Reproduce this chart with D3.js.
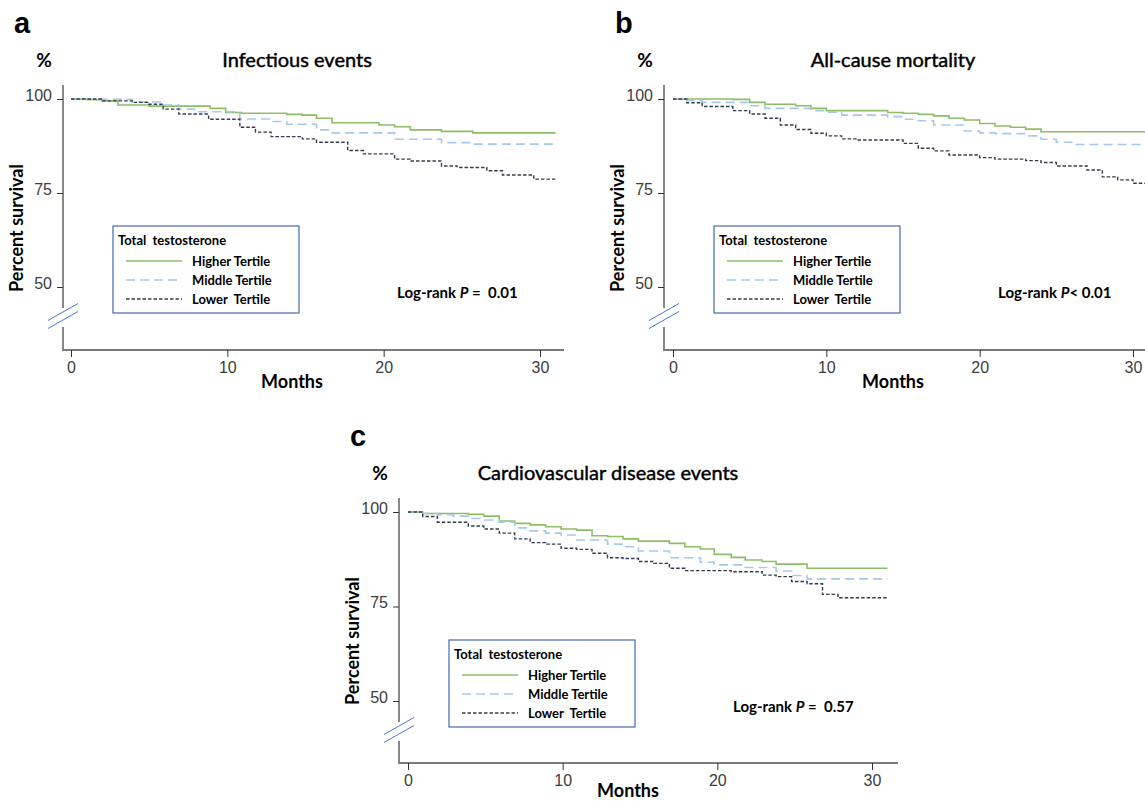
<!DOCTYPE html>
<html>
<head>
<meta charset="utf-8">
<script src="https://cdn.jsdelivr.net/npm/d3@7"></script>
<style>
    body { margin: 0; background: #fff; }
    svg text { font-family: Lato, "Open Sans", sans-serif; }
</style>
</head>
<body>
<div id="chart"></div>
<script>
// [month, percent survival] - step points
let infHigher = [[0,100],[1,99.8],[2,99.5],[3,98.4],[5,98.1],[8.9,97.5],[9.9,96.4],[10.9,96.2],[13.8,95.9],[14.8,95.7],[15.7,94.9],[16.7,93.7],[19.7,93.1],[20.7,92.6],[21.7,91.8],[23.7,91.4],[25.7,91.0],[31,91.0]]
let infMiddle = [[0,100],[2,99.9],[3.9,99.2],[5.9,98.4],[6.9,97.3],[7.9,96.6],[10.8,94.7],[12.9,94.0],[13.8,93.3],[15.7,91.8],[16.7,91.0],[20.7,89.3],[23.7,88.4],[25.7,88.0],[31,88.0]]
let infLower = [[0,100],[2,99.5],[4,99.1],[4.9,98.6],[5.9,97.3],[6.9,96.0],[8.8,94.6],[10.8,92.5],[11.8,91.2],[12.8,90.0],[14.8,89.4],[15.7,88.5],[17.7,86.3],[18.7,85.4],[20.7,84.0],[21.7,83.5],[23.7,82.2],[24.7,81.8],[26.6,80.9],[27.6,79.8],[29.6,78.7],[31,78.7]]

let mortHigher = [[0,100],[3.9,99.9],[5,99.1],[6,98.6],[8,98.2],[9,97.5],[10,96.9],[14,96.4],[15,96.2],[16,95.9],[17,95.5],[18,94.9],[19,94.4],[20,93.5],[21,92.8],[22,92.5],[23,92.0],[24,91.3],[31,91.3]]
let mortMiddle = [[0,100],[0.9,99.6],[1.9,99.1],[5,98.2],[6,97.5],[9,96.9],[10,96.5],[11,95.7],[14,95.3],[15,94.6],[16,94.2],[17,93.1],[19,91.5],[20,91.0],[21,90.8],[23,90.2],[24,89.3],[25,88.5],[26,87.9],[31,87.9]]
let mortLower = [[0,100],[0.9,99.0],[1.9,98.0],[3.9,96.9],[5,96.0],[6,94.9],[7,93.1],[8,91.9],[9,90.9],[10,90.2],[11,89.4],[12,89.1],[15,88.2],[16,86.9],[17,86.2],[18,85.1],[20,84.4],[21,84.0],[23,83.6],[24,83.1],[25,82.2],[27,81.1],[28,79.3],[29,78.5],[30,77.6],[31,77.6]]

let cvdHigher = [[0,100],[0.95,99.6],[3.9,99.4],[4.9,98.9],[5.9,97.6],[6.9,97.0],[7.9,96.6],[8.9,96.1],[9.9,95.5],[10.9,95.2],[11.9,93.7],[12.9,93.5],[13.9,92.9],[14.9,92.3],[16.9,91.7],[17.9,90.8],[18.9,90.2],[19.8,88.8],[20.9,88.0],[21.8,87.3],[22.9,86.9],[23.8,86.2],[25.8,85.1],[31,85.1]]
let cvdMiddle = [[0,100],[0.95,99.6],[1.9,99.2],[2.9,98.9],[3.9,98.3],[4.9,97.9],[5.9,97.3],[6.9,95.8],[7.9,95.0],[8.9,94.4],[9.9,93.9],[10.9,92.6],[12.9,91.5],[13.9,90.8],[14.9,89.7],[16.9,87.9],[18.9,86.7],[19.8,86.0],[21.8,85.3],[23.8,84.4],[24.8,83.2],[25.8,82.3],[31,82.3]]
let cvdLower = [[0,100],[0.95,98.8],[1.9,97.3],[3.9,96.3],[4.9,95.5],[5.9,94.4],[6.9,92.9],[7.9,91.9],[8.9,91.5],[9.9,90.4],[10.9,90.1],[11.9,89.1],[12.9,87.9],[13.9,87.7],[14.9,86.9],[15.9,86.4],[16.9,85.1],[17.9,84.5],[20.9,84.2],[22.9,83.3],[23.8,82.9],[24.8,81.6],[25.8,81.0],[26.8,78.2],[27.8,77.3],[31,77.3]]

let xTicks = [0, 10, 20, 30]
let yTicks = [50, 75, 100]
let panelLetters = ["a", "b", "c"]
let panelTitles = ["Infectious events", "All-cause mortality", "Cardiovascular disease events"]
let pValues = [" =  0.01", "< 0.01", " =  0.57"]
let legendTitle = "Total  testosterone"
let tertileNames = ["Higher Tertile", "Middle Tertile", "Lower  Tertile"]

let seriesData = [
    [infHigher, infMiddle, infLower],
    [mortHigher, mortMiddle, mortLower],
    [cvdHigher, cvdMiddle, cvdLower]
]

// line styles per tertile
let tertileStyle = [
    {color: "#8dbd66", dash: null, width: 1.6},
    {color: "#a6c8ee", dash: "9,5", width: 1.6},
    {color: "#343c4c", dash: "3.5,2", width: 1.4}
]

// panel placement on the page
let layout = [
    {ax: 63,  x0: 71,  x30: 540,  right: 564,  y100: 99,  y50: 287, bottom: 350, titleX: 297, monthsY: 388},
    {ax: 664, x0: 673, x30: 1133, right: 1150, y100: 99,  y50: 287, bottom: 350, titleX: 893, monthsY: 388},
    {ax: 399, x0: 408, x30: 872,  right: 898,  y100: 512, y50: 701, bottom: 763, titleX: 608, monthsY: 797}
]

let svg = d3.select("#chart")
    .append("svg")
        .attr("width", 1145)
        .attr("height", 802)

layout.forEach((p, i) => drawPanel(p, i))

function drawPanel(p, i) {
    let g = svg.append("g").attr("id", "panel" + panelLetters[i])

    let x = d3.scaleLinear().domain([0, 30]).range([p.x0, p.x30])
    let y = d3.scaleLinear().domain([50, 100]).range([p.y50, p.y100])

    // axis lines (y axis is broken below 50)
    g.append("line")
        .attr("x1", p.ax).attr("x2", p.ax)
        .attr("y1", p.y100 - 14).attr("y2", p.y50 + 21)
        .attr("stroke", "#7a7a7a").attr("stroke-width", 1.8)
    g.append("line")
        .attr("x1", p.ax).attr("x2", p.ax)
        .attr("y1", p.y50 + 40).attr("y2", p.bottom)
        .attr("stroke", "#7a7a7a").attr("stroke-width", 1.8)
    g.append("line")
        .attr("x1", p.ax - 0.9).attr("x2", p.right)
        .attr("y1", p.bottom).attr("y2", p.bottom)
        .attr("stroke", "#7a7a7a").attr("stroke-width", 1.8)

    // break marks
    ;[25, 33].forEach(off => {
        g.append("line")
            .attr("x1", p.ax - 15).attr("y1", p.y50 + off + 8.5)
            .attr("x2", p.ax + 15).attr("y2", p.y50 + off - 8.5)
            .attr("stroke", "#4a78cf").attr("stroke-width", 1)
    })

    let yAxis = g.append("g")
        .attr("transform", `translate(${p.ax},0)`)
        .call(d3.axisLeft(y).tickValues(yTicks).tickSize(6).tickPadding(5))
    yAxis.select(".domain").remove()
    yAxis.selectAll("text").attr("dy", "1px")

    let xAxis = g.append("g")
        .attr("transform", `translate(0,${p.bottom})`)
        .call(d3.axisBottom(x).tickValues(xTicks).tickSize(7).tickPadding(5))
    xAxis.select(".domain").remove()

    ;[yAxis, xAxis].forEach(a => {
        a.selectAll("text")
            .style("font-family", "'Liberation Sans', Arial, sans-serif")
            .style("font-size", "16px")
            .attr("fill", "#3c3c3c")
        a.selectAll(".tick line").attr("stroke", "#333")
    })

    // curves
    let line = d3.line()
        .x(d => x(d[0]))
        .y(d => y(d[1]))
        .curve(d3.curveStepAfter)

    seriesData[i].forEach((s, k) => {
        g.append("path")
            .datum(s)
            .attr("d", line)
            .attr("fill", "none")
            .attr("stroke", tertileStyle[k].color)
            .attr("stroke-width", tertileStyle[k].width)
            .attr("stroke-dasharray", tertileStyle[k].dash)
    })

    // labels
    g.append("text")
        .attr("x", p.ax - 49).attr("y", p.y100 - 66)
        .style("font-family", "'Liberation Sans', Arial, sans-serif")
        .style("font-size", "29px").style("font-weight", "bold")
        .text(panelLetters[i])

    g.append("text")
        .attr("x", p.ax - 19).attr("y", p.y100 - 32)
        .attr("text-anchor", "middle")
        .style("font-size", "19px").style("font-weight", "bold")
        .text("%")

    g.append("text")
        .attr("x", p.titleX).attr("y", p.y100 - 32)
        .attr("text-anchor", "middle")
        .style("font-size", "20px")
        .attr("fill", "#000")
        .attr("stroke", "#000").attr("stroke-width", 0.45)
        .text(panelTitles[i])

    g.append("text")
        .attr("transform", `translate(${p.ax - 40},${p.y100 + 129}) rotate(-90)`)
        .attr("text-anchor", "middle")
        .style("font-size", "18px").style("font-weight", "bold")
        .text("Percent survival")

    g.append("text")
        .attr("x", p.ax + 229).attr("y", p.monthsY)
        .attr("text-anchor", "middle")
        .style("font-size", "18px").style("font-weight", "bold")
        .text("Months")

    let pv = g.append("text")
        .attr("x", p.ax + 334).attr("y", p.y50 + 11)
        .style("font-size", "15px").style("font-weight", "bold")
        .style("white-space", "pre")
    pv.append("tspan").text("Log-rank ")
    pv.append("tspan").style("font-style", "italic").text("P")
    pv.append("tspan").text(pValues[i])

    // legend
    let lg = g.append("g").attr("transform", `translate(${p.ax + 50},${p.y50 - 61})`)
    lg.append("rect")
        .attr("width", 186).attr("height", 87)
        .attr("fill", "#fff")
        .attr("stroke", "#4668b0").attr("stroke-width", 1.2)
    lg.append("text")
        .attr("x", 5).attr("y", 19)
        .style("font-size", "13px").style("font-weight", "bold")
        .style("white-space", "pre")
        .text(legendTitle)
    tertileNames.forEach((name, k) => {
        lg.append("line")
            .attr("x1", 13).attr("x2", 69)
            .attr("y1", 35 + k * 19).attr("y2", 35 + k * 19)
            .attr("stroke", tertileStyle[k].color)
            .attr("stroke-width", tertileStyle[k].width)
            .attr("stroke-dasharray", tertileStyle[k].dash)
        lg.append("text")
            .attr("x", 79).attr("y", 40 + k * 19)
            .style("font-size", "13px").style("font-weight", "bold")
            .style("white-space", "pre")
            .text(name)
    })
}
</script>
</body>
</html>
